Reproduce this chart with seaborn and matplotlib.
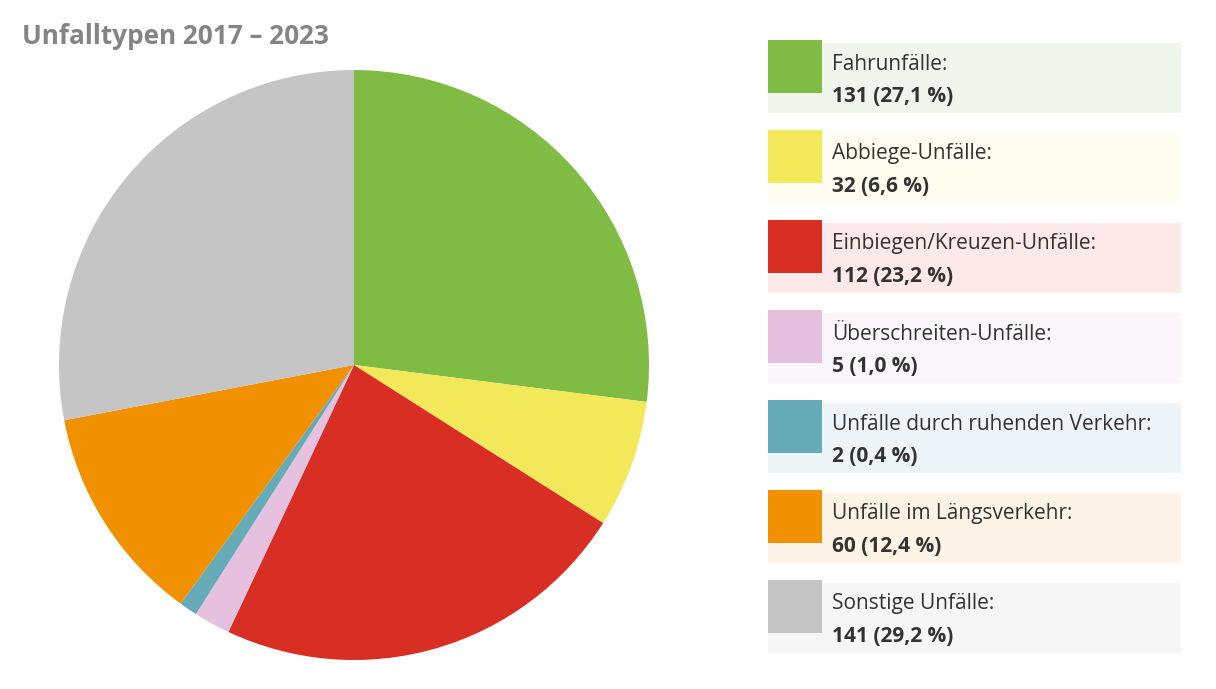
import matplotlib
matplotlib.use("Agg")
import matplotlib.pyplot as plt
import seaborn as sns
from matplotlib.patches import Rectangle

categories = ["Fahrunfälle:", "Abbiege-Unfälle:", "Einbiegen/Kreuzen-Unfälle:",
              "Überschreiten-Unfälle:", "Unfälle durch ruhenden Verkehr:",
              "Unfälle im Längsverkehr:", "Sonstige Unfälle:"]
values = [131, 32, 112, 5, 2, 60, 141]
# slice shares (%) as drawn in the picture (small slices are enlarged there)
pie_shares = [27.0, 7.0, 23.0, 2.0, 1.0, 12.0, 28.0]
colors = ["#80BC44", "#F3E75A", "#D92E23", "#E6C1DF", "#65ABB8", "#F29100", "#C5C5C5"]
bands = ["#F0F6EB", "#FFFDEF", "#FCE9E8", "#FAF6FA", "#EEF5F8", "#FDF4E7", "#F6F6F6"]
title = "Unfalltypen 2017 – 2023"

sns.set_theme(style="white")
plt.rcParams['font.family'] = ['Open Sans', 'DejaVu Sans']

W, H = 1216, 689
fig = plt.figure(figsize=(W / 100, H / 100), dpi=100)
fig.patch.set_facecolor("white")

# pie
cx, cy, r = 354, 365, 295
ax = fig.add_axes([(cx - r) / W, (H - cy - r) / H, 2 * r / W, 2 * r / H])
ax.pie(pie_shares, colors=colors, startangle=90, counterclock=False, radius=1,
       wedgeprops=dict(linewidth=0))
ax.set_xlim(-1, 1); ax.set_ylim(-1, 1)
ax.set_aspect("equal")
ax.axis("off")

# overlay in pixel coords
ov = fig.add_axes([0, 0, 1, 1])
ov.set_xlim(0, W); ov.set_ylim(H, 0)
ov.axis("off")
ov.patch.set_alpha(0)

ov.text(22, 37, title, fontsize=18.8, fontweight="bold", color="#848484",
        ha="left", va="center")

total = sum(values)
for i, (lab, v) in enumerate(zip(categories, values)):
    y0 = 43 + i * 90
    ov.add_patch(Rectangle((768, y0), 413, 70, facecolor=bands[i], edgecolor="none"))
    ov.add_patch(Rectangle((768, y0 - 3), 54, 53, facecolor=colors[i], edgecolor="none"))
    pct = f"{v / total * 100:.1f}".replace(".", ",")
    ov.text(832, y0 + 21, lab, fontsize=15, color="#333333", ha="left", va="center")
    ov.text(832, y0 + 54, f"{v} ({pct} %)", fontsize=15, fontweight="bold",
            color="#333333", ha="left", va="center")

fig.savefig("out.png", dpi=100, facecolor="white")
